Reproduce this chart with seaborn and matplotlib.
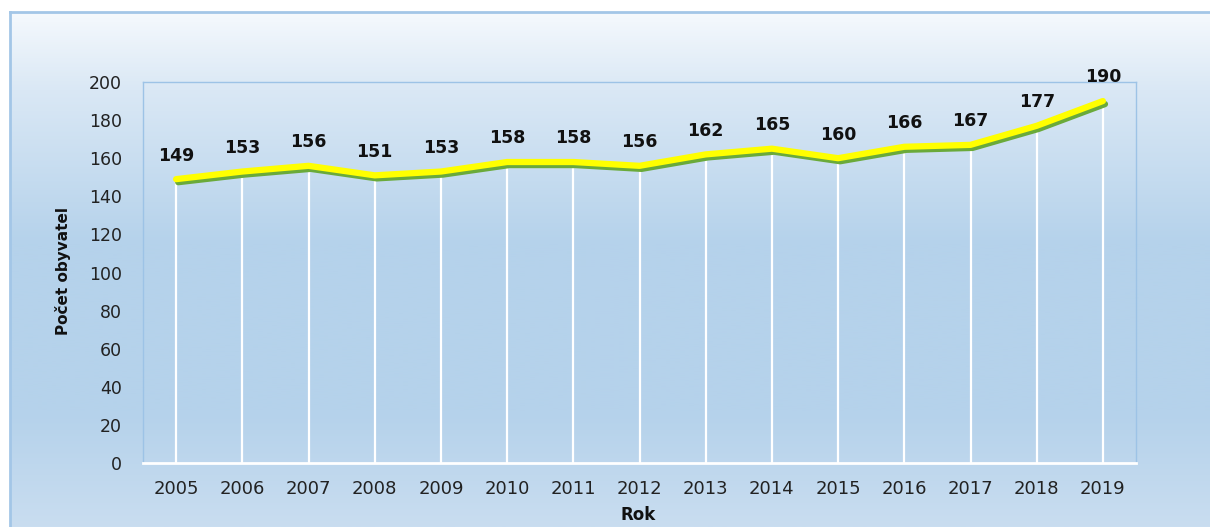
import numpy as np
import pandas as pd
import matplotlib
matplotlib.use("Agg")
import matplotlib.pyplot as plt
import matplotlib.patheffects as pe
import seaborn as sns

# ------------------------------------------ DATA ------------------------------------------------#
years = ["2005", "2006", "2007", "2008", "2009", "2010", "2011", "2012", "2013", "2014",
         "2015", "2016", "2017", "2018", "2019"]
population = [149, 153, 156, 151, 153, 158, 158, 156, 162, 165, 160, 166, 167, 177, 190]
y_ticks = [0, 20, 40, 60, 80, 100, 120, 140, 160, 180, 200]

df = pd.DataFrame({"pos": np.arange(len(years)), "rok": years, "pocet": population})

# ------------------------------------------ PLOT ------------------------------------------------#
sns.set_style("white")
plt.rcParams["font.family"] = ["DejaVu Sans"]

W, H = 1210, 527
fig = plt.figure(figsize=(W / 100, H / 100), dpi=100)
fig.patch.set_facecolor("white")

# outer chart area with vertical gradient (white -> blue -> lighter blue)
bg = fig.add_axes([10 / W, 0, 1 - 10 / W, (H - 12) / H])
stops_y = [0.0, 0.15, 0.45, 0.78, 1.0]
stops_c = [np.array([0xf5, 0xf9, 0xfd]), np.array([0xda, 0xe8, 0xf5]), np.array([0xb5, 0xd2, 0xeb]),
           np.array([0xb5, 0xd2, 0xeb]), np.array([0xc9, 0xdd, 0xf0])]
t = np.linspace(0, 1, 256)
grad = np.zeros((256, 1, 3))
for ch in range(3):
    grad[:, 0, ch] = np.interp(t, stops_y, [c[ch] for c in stops_c]) / 255
bg.imshow(grad, aspect="auto", extent=[0, 1, 0, 1], origin="upper")
bg.set_xlim(0, 1)
bg.set_ylim(0, 1)
bg.set_xticks([])
bg.set_yticks([])
for side in ["right", "bottom"]:
    bg.spines[side].set_visible(False)
for side in ["left", "top"]:
    bg.spines[side].set_color("#a3c6e7")
    bg.spines[side].set_linewidth(2)

# plot area (transparent, gradient shows through)
ax = fig.add_axes([143 / W, 1 - 463 / H, (1136 - 143) / W, (463 - 82) / H])
ax.patch.set_alpha(0)

ax.vlines(df["pos"], 0, df["pocet"], colors="white", linewidth=1.6, zorder=2)

sns.lineplot(data=df, x="pos", y="pocet", ax=ax, color="#ffff00", linewidth=4.5,
             solid_capstyle="round", zorder=4,
             path_effects=[pe.SimpleLineShadow(offset=(1.5, -2.2), shadow_color="#6aaa3a", alpha=1.0),
                           pe.Normal()])

for x, v in zip(df["pos"], df["pocet"]):
    ax.annotate(str(v), (x, v), xytext=(0, 17), textcoords="offset points",
                ha="center", va="center", fontsize=12.5, fontweight="bold", color="#111111",
                annotation_clip=False)

ax.set_xlim(-0.5, len(years) - 0.5)
ax.set_ylim(0, 200)
ax.set_xticks(df["pos"])
ax.set_xticklabels(years, fontsize=13, color="#222222")
ax.set_yticks(y_ticks)
ax.set_yticklabels([str(v) for v in y_ticks], fontsize=12.5, color="#222222")
ax.tick_params(axis="x", length=0, pad=12)
ax.tick_params(axis="y", length=0, pad=15)
ax.set_xlabel("")
ax.set_ylabel("")

for side in ["left", "top", "right"]:
    ax.spines[side].set_color("#9dc3e6")
    ax.spines[side].set_linewidth(1)
ax.spines["bottom"].set_color("white")
ax.spines["bottom"].set_linewidth(2)

fig.text(63 / W, 1 - 271 / H, "Počet obyvatel", rotation=90, ha="center", va="center",
         fontsize=11, fontweight="bold", color="#111111",
         family=["Liberation Sans Narrow", "DejaVu Sans"])
fig.text(638 / W, 1 - 515 / H, "Rok", ha="center", va="center",
         fontsize=12, fontweight="bold", color="#111111")

fig.savefig("out.png", dpi=100)
plt.close()
